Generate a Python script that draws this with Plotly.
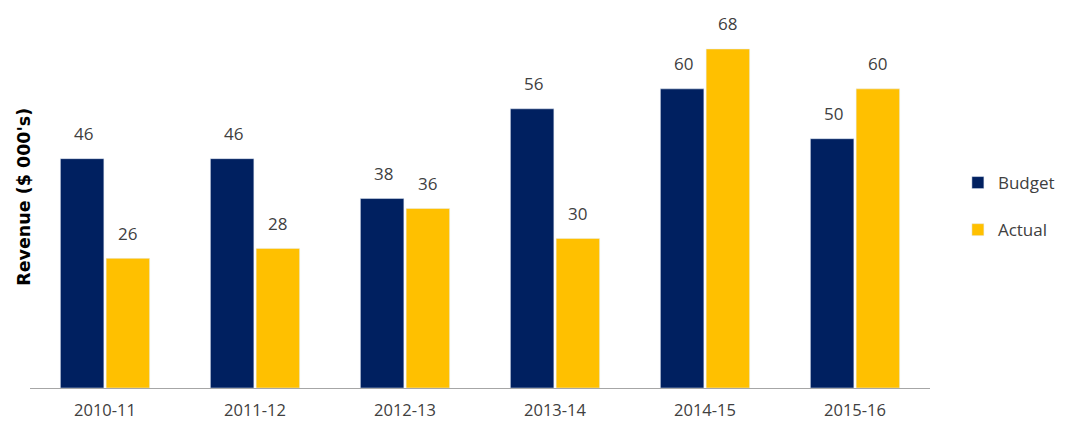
import plotly.graph_objects as go

years = ["2010-11", "2011-12", "2012-13", "2013-14", "2014-15", "2015-16"]
budget = [46, 46, 38, 56, 60, 50]
actual = [26, 28, 36, 30, 68, 60]

NAVY = "#002060"
GOLD = "#FFC000"
TXT = "#404040"

fig = go.Figure()
fig.add_trace(go.Bar(x=years, y=budget, name="Budget", marker_color=NAVY,
                     legendgroup="b"))
fig.add_trace(go.Bar(x=years, y=actual, name="Actual", marker_color=GOLD,
                     legendgroup="a"))

# value labels above bars
for vals, dx in [(budget, -22), (actual, 22)]:
    for yr, v in zip(years, vals):
        fig.add_annotation(x=yr, y=v, text=str(v), showarrow=False,
                           xshift=dx, yshift=25,
                           font=dict(size=17, color=TXT))

# y axis title
fig.add_annotation(text="<b>Revenue ($ 000's)</b>", textangle=-90, showarrow=False,
                   xref="paper", yref="paper", x=-0.007, y=0.547,
                   xanchor="center", yanchor="middle",
                   font=dict(family="DejaVu Sans, sans-serif", size=17.5, color="#000000"))

fig.update_layout(
    width=1074, height=434,
    margin=dict(l=22, r=152, t=31, b=54),
    paper_bgcolor="white", plot_bgcolor="white",
    font=dict(family="Open Sans, Liberation Sans, sans-serif", color=TXT, size=14),
    barmode="group", bargap=0.39, bargroupgap=0.05,
    showlegend=True,
    legend=dict(x=1.031, y=0.52, xanchor="left", yanchor="middle",
                font=dict(size=17, color=TXT), tracegroupgap=22,
                traceorder="grouped", itemwidth=30),
    xaxis=dict(type="category", showline=True, linecolor="#A6A6A6", linewidth=1,
               ticks="", ticklabelstandoff=7,
               tickfont=dict(size=16.5, color=TXT), fixedrange=True),
    yaxis=dict(range=[0, 70], showgrid=False, showticklabels=False, zeroline=False),
)

fig.write_html("out.html")
